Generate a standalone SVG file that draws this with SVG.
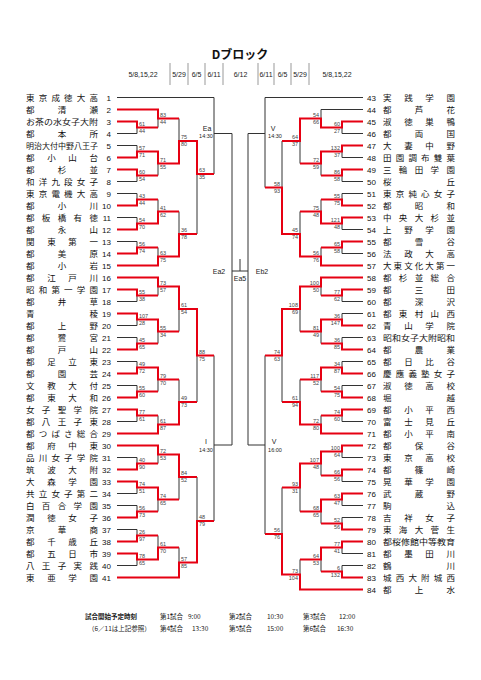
<svg xmlns="http://www.w3.org/2000/svg" width="481" height="680" viewBox="0 0 481 680">
<style>
.k{fill:none;stroke:#333;stroke-width:1}
.r{fill:none;stroke:#e60012;stroke-width:2}
.sep{stroke:#999;stroke-width:1}
.nm{font-family:"Noto Sans CJK JP",sans-serif;font-size:8.5px;fill:#111}
.sm{font-size:7.5px}
.no{font-family:"Liberation Sans",sans-serif;font-size:8px;fill:#111}
.nl{text-anchor:end}
.sc{font-family:"Liberation Sans",sans-serif;font-size:5.5px;fill:#444}
.se{text-anchor:end}
.lb{font-family:"Liberation Sans",sans-serif;font-size:7px;fill:#222;text-anchor:middle}
.tm{font-family:"Liberation Sans",sans-serif;font-size:5.5px;fill:#222;text-anchor:middle}
.dt{font-family:"Liberation Sans",sans-serif;font-size:7px;fill:#222;text-anchor:middle}
.ft{font-family:"Noto Sans CJK JP",sans-serif;font-size:6.5px;fill:#222}
</style>
<rect width="481" height="680" fill="#fff"/>
<g id="header">
<text x="240" y="59" text-anchor="middle" style="font-family:'Noto Sans CJK JP',sans-serif;font-size:12px;font-weight:bold" fill="#111">Dブロック</text>
<path class="sep" d="M170 63V85M188 63V85M205 63V85M223 63V85M258 63V85M274 63V85M291 63V85M309 63V85"/>
<text class="dt" x="143" y="77">5/8,15,22</text>
<text class="dt" x="179" y="77">5/29</text>
<text class="dt" x="196.5" y="77">6/5</text>
<text class="dt" x="214" y="77">6/11</text>
<text class="dt" x="240.5" y="77">6/12</text>
<text class="dt" x="266" y="77">6/11</text>
<text class="dt" x="282.5" y="77">6/5</text>
<text class="dt" x="300" y="77">5/29</text>
<text class="dt" x="337" y="77">5/8,15,22</text>
</g>
<g id="connectors">
<path class="k" d="M117 97.5H214M117 109.5H158M117 121.5H137M117 133.5H137M117 145.5H137M117 157.5H137M117 169.5H137M117 181.5H137M117 193.5H137M117 205.5H137M117 217.5H137M117 229.5H137M117 241.5H137M117 253.5H137M117 265.5H158M117 277.5H158M117 289.5H137M117 301.5H137M117 313.5H137M117 325.5H137M117 337.5H137M117 349.5H137M117 361.5H137M117 373.5H137M117 385.5H137M117 397.5H137M117 409.5H137M117 421.5H137M117 433.5H158M117 445.5H158M117 457.5H137M117 469.5H137M117 481.5H137M117 493.5H137M117 505.5H137M117 517.5H137M117 529.5H137M117 541.5H137M117 553.5H137M117 565.5H137M117 577.5H179"/>
<path class="k" d="M137 121.5V133.5M137 145.5V157.5M137 169.5V181.5M137 193.5V205.5M137 217.5V229.5M137 241.5V253.5M137 289.5V301.5M137 313.5V325.5M137 337.5V349.5M137 361.5V373.5M137 385.5V397.5M137 409.5V421.5M137 457.5V469.5M137 481.5V493.5M137 505.5V517.5M137 529.5V541.5M137 553.5V565.5M158 109.5V127.5M158 151.5V175.5M158 199.5V223.5M158 247.5V265.5M158 277.5V295.5M158 319.5V343.5M158 367.5V391.5M158 415.5V433.5M158 445.5V463.5M158 487.5V511.5M158 535.5V559.5M179 118.5V163.5M179 211.5V256.5M179 286.5V331.5M179 379.5V424.5M179 454.5V499.5M179 547.5V577.5M197 141V234M197 309V402M197 477V562.5M214 97.5V174M214 355.5V521M232 133.5V445M214 133.5H232M214 445H232"/>
<path class="k" d="M232 271H248M240 259V271"/>
<path class="k" d="M265 97.5H363M321 109.5H363M342 121.5H363M342 133.5H363M342 145.5H363M342 157.5H363M342 169.5H363M342 181.5H363M342 193.5H363M342 205.5H363M342 217.5H363M342 229.5H363M342 241.5H363M342 253.5H363M321 265.5H363M321 277.5H363M342 289.5H363M342 301.5H363M342 313.5H363M342 325.5H363M342 337.5H363M342 349.5H363M342 361.5H363M342 373.5H363M342 385.5H363M342 397.5H363M342 409.5H363M342 421.5H363M321 433.5H363M342 445.5H363M342 457.5H363M342 469.5H363M342 481.5H363M342 493.5H363M342 505.5H363M342 517.5H363M342 529.5H363M342 541.5H363M342 553.5H363M342 565.5H363M342 577.5H363M300 589.5H363"/>
<path class="k" d="M342 121.5V133.5M342 145.5V157.5M342 169.5V181.5M342 193.5V205.5M342 217.5V229.5M342 241.5V253.5M342 289.5V301.5M342 313.5V325.5M342 337.5V349.5M342 361.5V373.5M342 385.5V397.5M342 409.5V421.5M342 445.5V457.5M342 469.5V481.5M342 493.5V505.5M342 517.5V529.5M342 541.5V553.5M342 565.5V577.5M321 109.5V127.5M321 151.5V175.5M321 199.5V223.5M321 247.5V265.5M321 277.5V295.5M321 319.5V343.5M321 367.5V391.5M321 415.5V433.5M321 451.5V475.5M321 499.5V523.5M321 547.5V571.5M300 118.5V163.5M300 211.5V256.5M300 286.5V331.5M300 379.5V424.5M300 463.5V511.5M300 559.5V589.5M282 141V234M282 309V402M282 487.5V574.5M265 97.5V187.5M265 355.5V534M248 133.5V445M248 133.5H265M248 445H265"/>
<path class="r" d="M117 109.5H158V118.5H179M117 121.5H137V127.5H158M117 157.5H137V151.5H158V163.5H179V141H197V174H214M117 169.5H137V175.5H158M117 205.5H137V199.5H158M117 229.5H137V223.5H158V211.5H179M117 253.5H137V247.5H158M117 265.5H158V256.5H179V234H197M117 277.5H158V286.5H179V309H197V355.5H214M117 289.5H137V295.5H158M117 313.5H137V319.5H158V331.5H179M117 349.5H137V343.5H158M117 373.5H137V367.5H158V379.5H179M117 397.5H137V391.5H158M117 409.5H137V415.5H158M117 433.5H158V424.5H179V402H197M117 445.5H158V454.5H179V477H197M117 469.5H137V463.5H158M117 481.5H137V487.5H158V499.5H179M117 517.5H137V511.5H158M117 541.5H137V535.5H158M117 553.5H137V559.5H158V547.5H179M117 577.5H179V562.5H197V521H214"/>
<path class="r" d="M363 121.5H342V127.5H321V118.5H300V141H282M363 145.5H342V151.5H321V163.5H300M363 169.5H342V175.5H321M363 205.5H342V199.5H321M363 217.5H342V223.5H321V211.5H300M363 241.5H342V247.5H321M363 265.5H321V256.5H300V234H282V187.5H265M363 277.5H321V286.5H300V309H282V355.5H265M363 289.5H342V295.5H321M363 325.5H342V319.5H321V331.5H300M363 349.5H342V343.5H321M363 373.5H342V367.5H321V379.5H300M363 397.5H342V391.5H321M363 409.5H342V415.5H321M363 433.5H321V424.5H300V402H282M363 445.5H342V451.5H321V463.5H300V487.5H282M363 469.5H342V475.5H321M363 493.5H342V499.5H321V511.5H300M363 529.5H342V523.5H321M363 541.5H342V547.5H321V559.5H300M363 577.5H342V571.5H321M363 589.5H300V574.5H282V534H265"/>
</g>
<g id="scores" class="sc">
<text x="139" y="125.5">61</text><text x="139" y="132.5">44</text>
<text x="160" y="116.5">83</text><text x="160" y="123.5">44</text>
<text x="139" y="149.5">57</text><text x="139" y="156.5">71</text>
<text x="139" y="173.5">60</text><text x="139" y="180.5">54</text>
<text x="160" y="161.5">71</text><text x="160" y="168.5">55</text>
<text x="181" y="139">75</text><text x="181" y="146">80</text>
<text x="139" y="197.5">43</text><text x="139" y="204.5">44</text>
<text x="139" y="221.5">54</text><text x="139" y="228.5">70</text>
<text x="160" y="209.5">41</text><text x="160" y="216.5">62</text>
<text x="139" y="245.5">56</text><text x="139" y="252.5">74</text>
<text x="160" y="254.5">63</text><text x="160" y="261.5">75</text>
<text x="181" y="232">36</text><text x="181" y="239">78</text>
<text x="199" y="172">63</text><text x="199" y="179">35</text>
<text x="139" y="293.5">55</text><text x="139" y="300.5">38</text>
<text x="160" y="284.5">73</text><text x="160" y="291.5">57</text>
<text x="139" y="317.5">107</text><text x="139" y="324.5">28</text>
<text x="139" y="341.5">45</text><text x="139" y="348.5">65</text>
<text x="160" y="329.5">55</text><text x="160" y="336.5">34</text>
<text x="181" y="307">61</text><text x="181" y="314">54</text>
<text x="139" y="365.5">49</text><text x="139" y="372.5">72</text>
<text x="139" y="389.5">55</text><text x="139" y="396.5">60</text>
<text x="160" y="377.5">79</text><text x="160" y="384.5">70</text>
<text x="139" y="413.5">77</text><text x="139" y="420.5">61</text>
<text x="160" y="422.5">61</text><text x="160" y="429.5">87</text>
<text x="181" y="400">49</text><text x="181" y="407">73</text>
<text x="199" y="353.5">88</text><text x="199" y="360.5">75</text>
<text x="139" y="461.5">40</text><text x="139" y="468.5">90</text>
<text x="160" y="452.5">72</text><text x="160" y="459.5">53</text>
<text x="139" y="485.5">74</text><text x="139" y="492.5">51</text>
<text x="139" y="509.5">56</text><text x="139" y="516.5">73</text>
<text x="160" y="497.5">74</text><text x="160" y="504.5">65</text>
<text x="181" y="475">84</text><text x="181" y="482">52</text>
<text x="139" y="533.5">26</text><text x="139" y="540.5">97</text>
<text x="139" y="557.5">78</text><text x="139" y="564.5">65</text>
<text x="160" y="545.5">61</text><text x="160" y="552.5">70</text>
<text x="181" y="560.5">57</text><text x="181" y="567.5">85</text>
<text x="199" y="519">48</text><text x="199" y="526">79</text>
<g class="se">
<text x="340" y="125.5">60</text><text x="340" y="132.5">27</text>
<text x="319" y="116.5">54</text><text x="319" y="123.5">66</text>
<text x="340" y="149.5">132</text><text x="340" y="156.5">37</text>
<text x="340" y="173.5">86</text><text x="340" y="180.5">58</text>
<text x="319" y="161.5">72</text><text x="319" y="168.5">59</text>
<text x="298" y="139">64</text><text x="298" y="146">37</text>
<text x="340" y="197.5">55</text><text x="340" y="204.5">75</text>
<text x="340" y="221.5">121</text><text x="340" y="228.5">48</text>
<text x="319" y="209.5">75</text><text x="319" y="216.5">48</text>
<text x="340" y="245.5">65</text><text x="340" y="252.5">58</text>
<text x="319" y="254.5">56</text><text x="319" y="261.5">76</text>
<text x="298" y="232">45</text><text x="298" y="239">74</text>
<text x="280" y="185.5">58</text><text x="280" y="192.5">93</text>
<text x="340" y="293.5">77</text><text x="340" y="300.5">62</text>
<text x="319" y="284.5">100</text><text x="319" y="291.5">50</text>
<text x="340" y="317.5">36</text><text x="340" y="324.5">147</text>
<text x="340" y="341.5">36</text><text x="340" y="348.5">85</text>
<text x="319" y="329.5">81</text><text x="319" y="336.5">49</text>
<text x="298" y="307">108</text><text x="298" y="314">69</text>
<text x="340" y="365.5">34</text><text x="340" y="372.5">87</text>
<text x="340" y="389.5">54</text><text x="340" y="396.5">75</text>
<text x="319" y="377.5">117</text><text x="319" y="384.5">52</text>
<text x="340" y="413.5">74</text><text x="340" y="420.5">60</text>
<text x="319" y="422.5">72</text><text x="319" y="429.5">80</text>
<text x="298" y="400">61</text><text x="298" y="407">94</text>
<text x="280" y="353.5">74</text><text x="280" y="360.5">63</text>
<text x="340" y="449.5">100</text><text x="340" y="456.5">64</text>
<text x="340" y="473.5">66</text><text x="340" y="480.5">56</text>
<text x="319" y="461.5">107</text><text x="319" y="468.5">48</text>
<text x="340" y="497.5">63</text><text x="340" y="504.5">47</text>
<text x="340" y="521.5">52</text><text x="340" y="528.5">56</text>
<text x="319" y="509.5">68</text><text x="319" y="516.5">65</text>
<text x="298" y="485.5">93</text><text x="298" y="492.5">31</text>
<text x="340" y="545.5">77</text><text x="340" y="552.5">41</text>
<text x="340" y="569.5">6</text><text x="340" y="576.5">132</text>
<text x="319" y="557.5">64</text><text x="319" y="564.5">53</text>
<text x="298" y="572.5">73</text><text x="298" y="579.5">104</text>
<text x="280" y="532">56</text><text x="280" y="539">76</text>
</g>
</g>
<g id="match-labels">
<text class="lb" x="207" y="131">Ea</text><text class="tm" x="206" y="138">14:30</text>
<text class="lb" x="206" y="444">I</text><text class="tm" x="206" y="452">14:30</text>
<text class="lb" x="273" y="131">V</text><text class="tm" x="275" y="138">14:30</text>
<text class="lb" x="274" y="444">V</text><text class="tm" x="275" y="452">16:00</text>
<text class="lb" x="219" y="274">Ea2</text>
<text class="lb" x="262" y="274">Eb2</text>
<text class="lb" x="240" y="281">Ea5</text>
</g>
<g id="teams-left">
<g id="t1"><text class="nm" x="26" y="100.5" textLength="72" lengthAdjust="spacing">東京成徳大高</text><text class="no nl" x="111" y="100.5">1</text></g>
<g id="t2"><text class="nm" x="26" y="112.5" textLength="72" lengthAdjust="spacing">都清瀬</text><text class="no nl" x="111" y="112.5">2</text></g>
<g id="t3"><text class="nm sm" x="26" y="124.5" textLength="72" lengthAdjust="spacingAndGlyphs">お茶の水女子大附</text><text class="no nl" x="111" y="124.5">3</text></g>
<g id="t4"><text class="nm" x="26" y="136.5" textLength="72" lengthAdjust="spacing">都本所</text><text class="no nl" x="111" y="136.5">4</text></g>
<g id="t5"><text class="nm sm" x="26" y="148.5" textLength="72" lengthAdjust="spacingAndGlyphs">明治大付中野八王子</text><text class="no nl" x="111" y="148.5">5</text></g>
<g id="t6"><text class="nm" x="26" y="160.5" textLength="72" lengthAdjust="spacing">都小山台</text><text class="no nl" x="111" y="160.5">6</text></g>
<g id="t7"><text class="nm" x="26" y="172.5" textLength="72" lengthAdjust="spacing">都杉並</text><text class="no nl" x="111" y="172.5">7</text></g>
<g id="t8"><text class="nm" x="26" y="184.5" textLength="72" lengthAdjust="spacing">和洋九段女子</text><text class="no nl" x="111" y="184.5">8</text></g>
<g id="t9"><text class="nm" x="26" y="196.5" textLength="72" lengthAdjust="spacing">東京電機大高</text><text class="no nl" x="111" y="196.5">9</text></g>
<g id="t10"><text class="nm" x="26" y="208.5" textLength="72" lengthAdjust="spacing">都小川</text><text class="no nl" x="111" y="208.5">10</text></g>
<g id="t11"><text class="nm" x="26" y="220.5" textLength="72" lengthAdjust="spacing">都板橋有徳</text><text class="no nl" x="111" y="220.5">11</text></g>
<g id="t12"><text class="nm" x="26" y="232.5" textLength="72" lengthAdjust="spacing">都永山</text><text class="no nl" x="111" y="232.5">12</text></g>
<g id="t13"><text class="nm" x="26" y="244.5" textLength="72" lengthAdjust="spacing">関東第一</text><text class="no nl" x="111" y="244.5">13</text></g>
<g id="t14"><text class="nm" x="26" y="256.5" textLength="72" lengthAdjust="spacing">都美原</text><text class="no nl" x="111" y="256.5">14</text></g>
<g id="t15"><text class="nm" x="26" y="268.5" textLength="72" lengthAdjust="spacing">都小岩</text><text class="no nl" x="111" y="268.5">15</text></g>
<g id="t16"><text class="nm" x="26" y="280.5" textLength="72" lengthAdjust="spacing">都江戸川</text><text class="no nl" x="111" y="280.5">16</text></g>
<g id="t17"><text class="nm" x="26" y="292.5" textLength="72" lengthAdjust="spacing">昭和第一学園</text><text class="no nl" x="111" y="292.5">17</text></g>
<g id="t18"><text class="nm" x="26" y="304.5" textLength="72" lengthAdjust="spacing">都井草</text><text class="no nl" x="111" y="304.5">18</text></g>
<g id="t19"><text class="nm" x="26" y="316.5" textLength="72" lengthAdjust="spacing">青稜</text><text class="no nl" x="111" y="316.5">19</text></g>
<g id="t20"><text class="nm" x="26" y="328.5" textLength="72" lengthAdjust="spacing">都上野</text><text class="no nl" x="111" y="328.5">20</text></g>
<g id="t21"><text class="nm" x="26" y="340.5" textLength="72" lengthAdjust="spacing">都鷺宮</text><text class="no nl" x="111" y="340.5">21</text></g>
<g id="t22"><text class="nm" x="26" y="352.5" textLength="72" lengthAdjust="spacing">都戸山</text><text class="no nl" x="111" y="352.5">22</text></g>
<g id="t23"><text class="nm" x="26" y="364.5" textLength="72" lengthAdjust="spacing">都足立東</text><text class="no nl" x="111" y="364.5">23</text></g>
<g id="t24"><text class="nm" x="26" y="376.5" textLength="72" lengthAdjust="spacing">都園芸</text><text class="no nl" x="111" y="376.5">24</text></g>
<g id="t25"><text class="nm" x="26" y="388.5" textLength="72" lengthAdjust="spacing">文教大付</text><text class="no nl" x="111" y="388.5">25</text></g>
<g id="t26"><text class="nm" x="26" y="400.5" textLength="72" lengthAdjust="spacing">都東大和</text><text class="no nl" x="111" y="400.5">26</text></g>
<g id="t27"><text class="nm" x="26" y="412.5" textLength="72" lengthAdjust="spacing">女子聖学院</text><text class="no nl" x="111" y="412.5">27</text></g>
<g id="t28"><text class="nm" x="26" y="424.5" textLength="72" lengthAdjust="spacing">都八王子東</text><text class="no nl" x="111" y="424.5">28</text></g>
<g id="t29"><text class="nm" x="26" y="436.5" textLength="72" lengthAdjust="spacing">都つばさ総合</text><text class="no nl" x="111" y="436.5">29</text></g>
<g id="t30"><text class="nm" x="26" y="448.5" textLength="72" lengthAdjust="spacing">都府中東</text><text class="no nl" x="111" y="448.5">30</text></g>
<g id="t31"><text class="nm" x="26" y="460.5" textLength="72" lengthAdjust="spacing">品川女子学院</text><text class="no nl" x="111" y="460.5">31</text></g>
<g id="t32"><text class="nm" x="26" y="472.5" textLength="72" lengthAdjust="spacing">筑波大附</text><text class="no nl" x="111" y="472.5">32</text></g>
<g id="t33"><text class="nm" x="26" y="484.5" textLength="72" lengthAdjust="spacing">大森学園</text><text class="no nl" x="111" y="484.5">33</text></g>
<g id="t34"><text class="nm" x="26" y="496.5" textLength="72" lengthAdjust="spacing">共立女子第二</text><text class="no nl" x="111" y="496.5">34</text></g>
<g id="t35"><text class="nm" x="26" y="508.5" textLength="72" lengthAdjust="spacing">白百合学園</text><text class="no nl" x="111" y="508.5">35</text></g>
<g id="t36"><text class="nm" x="26" y="520.5" textLength="72" lengthAdjust="spacing">潤徳女子</text><text class="no nl" x="111" y="520.5">36</text></g>
<g id="t37"><text class="nm" x="26" y="532.5" textLength="72" lengthAdjust="spacing">京華商</text><text class="no nl" x="111" y="532.5">37</text></g>
<g id="t38"><text class="nm" x="26" y="544.5" textLength="72" lengthAdjust="spacing">都千歳丘</text><text class="no nl" x="111" y="544.5">38</text></g>
<g id="t39"><text class="nm" x="26" y="556.5" textLength="72" lengthAdjust="spacing">都五日市</text><text class="no nl" x="111" y="556.5">39</text></g>
<g id="t40"><text class="nm" x="26" y="568.5" textLength="72" lengthAdjust="spacing">八王子実践</text><text class="no nl" x="111" y="568.5">40</text></g>
<g id="t41"><text class="nm" x="26" y="580.5" textLength="72" lengthAdjust="spacing">東亜学園</text><text class="no nl" x="111" y="580.5">41</text></g>
</g>
<g id="teams-right">
<g id="t43"><text class="no" x="367" y="100.5">43</text><text class="nm" x="383" y="100.5" textLength="72" lengthAdjust="spacing">実践学園</text></g>
<g id="t44"><text class="no" x="367" y="112.5">44</text><text class="nm" x="383" y="112.5" textLength="72" lengthAdjust="spacing">都芦花</text></g>
<g id="t45"><text class="no" x="367" y="124.5">45</text><text class="nm" x="383" y="124.5" textLength="72" lengthAdjust="spacing">淑徳巣鴨</text></g>
<g id="t46"><text class="no" x="367" y="136.5">46</text><text class="nm" x="383" y="136.5" textLength="72" lengthAdjust="spacing">都両国</text></g>
<g id="t47"><text class="no" x="367" y="148.5">47</text><text class="nm" x="383" y="148.5" textLength="72" lengthAdjust="spacing">大妻中野</text></g>
<g id="t48"><text class="no" x="367" y="160.5">48</text><text class="nm" x="383" y="160.5" textLength="72" lengthAdjust="spacing">田園調布雙葉</text></g>
<g id="t49"><text class="no" x="367" y="172.5">49</text><text class="nm" x="383" y="172.5" textLength="72" lengthAdjust="spacing">三輪田学園</text></g>
<g id="t50"><text class="no" x="367" y="184.5">50</text><text class="nm" x="383" y="184.5" textLength="72" lengthAdjust="spacing">桜丘</text></g>
<g id="t51"><text class="no" x="367" y="196.5">51</text><text class="nm" x="383" y="196.5" textLength="72" lengthAdjust="spacing">東京純心女子</text></g>
<g id="t52"><text class="no" x="367" y="208.5">52</text><text class="nm" x="383" y="208.5" textLength="72" lengthAdjust="spacing">都昭和</text></g>
<g id="t53"><text class="no" x="367" y="220.5">53</text><text class="nm" x="383" y="220.5" textLength="72" lengthAdjust="spacing">中央大杉並</text></g>
<g id="t54"><text class="no" x="367" y="232.5">54</text><text class="nm" x="383" y="232.5" textLength="72" lengthAdjust="spacing">上野学園</text></g>
<g id="t55"><text class="no" x="367" y="244.5">55</text><text class="nm" x="383" y="244.5" textLength="72" lengthAdjust="spacing">都雪谷</text></g>
<g id="t56"><text class="no" x="367" y="256.5">56</text><text class="nm" x="383" y="256.5" textLength="72" lengthAdjust="spacing">法政大高</text></g>
<g id="t57"><text class="no" x="367" y="268.5">57</text><text class="nm" x="383" y="268.5" textLength="72" lengthAdjust="spacing">大東文化大第一</text></g>
<g id="t58"><text class="no" x="367" y="280.5">58</text><text class="nm" x="383" y="280.5" textLength="72" lengthAdjust="spacing">都杉並総合</text></g>
<g id="t59"><text class="no" x="367" y="292.5">59</text><text class="nm" x="383" y="292.5" textLength="72" lengthAdjust="spacing">都三田</text></g>
<g id="t60"><text class="no" x="367" y="304.5">60</text><text class="nm" x="383" y="304.5" textLength="72" lengthAdjust="spacing">都深沢</text></g>
<g id="t61"><text class="no" x="367" y="316.5">61</text><text class="nm" x="383" y="316.5" textLength="72" lengthAdjust="spacing">都東村山西</text></g>
<g id="t62"><text class="no" x="367" y="328.5">62</text><text class="nm" x="383" y="328.5" textLength="72" lengthAdjust="spacing">青山学院</text></g>
<g id="t63"><text class="no" x="367" y="340.5">63</text><text class="nm sm" x="383" y="340.5" textLength="72" lengthAdjust="spacingAndGlyphs">昭和女子大附昭和</text></g>
<g id="t64"><text class="no" x="367" y="352.5">64</text><text class="nm" x="383" y="352.5" textLength="72" lengthAdjust="spacing">都農業</text></g>
<g id="t65"><text class="no" x="367" y="364.5">65</text><text class="nm" x="383" y="364.5" textLength="72" lengthAdjust="spacing">都日比谷</text></g>
<g id="t66"><text class="no" x="367" y="376.5">66</text><text class="nm" x="383" y="376.5" textLength="72" lengthAdjust="spacing">慶應義塾女子</text></g>
<g id="t67"><text class="no" x="367" y="388.5">67</text><text class="nm" x="383" y="388.5" textLength="72" lengthAdjust="spacing">淑徳高校</text></g>
<g id="t68"><text class="no" x="367" y="400.5">68</text><text class="nm" x="383" y="400.5" textLength="72" lengthAdjust="spacing">堀越</text></g>
<g id="t69"><text class="no" x="367" y="412.5">69</text><text class="nm" x="383" y="412.5" textLength="72" lengthAdjust="spacing">都小平西</text></g>
<g id="t70"><text class="no" x="367" y="424.5">70</text><text class="nm" x="383" y="424.5" textLength="72" lengthAdjust="spacing">富士見丘</text></g>
<g id="t71"><text class="no" x="367" y="436.5">71</text><text class="nm" x="383" y="436.5" textLength="72" lengthAdjust="spacing">都小平南</text></g>
<g id="t72"><text class="no" x="367" y="448.5">72</text><text class="nm" x="383" y="448.5" textLength="72" lengthAdjust="spacing">都保谷</text></g>
<g id="t73"><text class="no" x="367" y="460.5">73</text><text class="nm" x="383" y="460.5" textLength="72" lengthAdjust="spacing">東京高校</text></g>
<g id="t74"><text class="no" x="367" y="472.5">74</text><text class="nm" x="383" y="472.5" textLength="72" lengthAdjust="spacing">都篠崎</text></g>
<g id="t75"><text class="no" x="367" y="484.5">75</text><text class="nm" x="383" y="484.5" textLength="72" lengthAdjust="spacing">晃華学園</text></g>
<g id="t76"><text class="no" x="367" y="496.5">76</text><text class="nm" x="383" y="496.5" textLength="72" lengthAdjust="spacing">武蔵野</text></g>
<g id="t77"><text class="no" x="367" y="508.5">77</text><text class="nm" x="383" y="508.5" textLength="72" lengthAdjust="spacing">駒込</text></g>
<g id="t78"><text class="no" x="367" y="520.5">78</text><text class="nm" x="383" y="520.5" textLength="72" lengthAdjust="spacing">吉祥女子</text></g>
<g id="t79"><text class="no" x="367" y="532.5">79</text><text class="nm" x="383" y="532.5" textLength="72" lengthAdjust="spacing">東海大菅生</text></g>
<g id="t80"><text class="no" x="367" y="544.5">80</text><text class="nm sm" x="383" y="544.5" textLength="72" lengthAdjust="spacingAndGlyphs">都桜修館中等教育</text></g>
<g id="t81"><text class="no" x="367" y="556.5">81</text><text class="nm" x="383" y="556.5" textLength="72" lengthAdjust="spacing">都墨田川</text></g>
<g id="t82"><text class="no" x="367" y="568.5">82</text><text class="nm" x="383" y="568.5" textLength="72" lengthAdjust="spacing">鶴川</text></g>
<g id="t83"><text class="no" x="367" y="580.5">83</text><text class="nm" x="383" y="580.5" textLength="72" lengthAdjust="spacing">城西大附城西</text></g>
<g id="t84"><text class="no" x="367" y="592.5">84</text><text class="nm" x="383" y="592.5" textLength="72" lengthAdjust="spacing">都上水</text></g>
</g>
<g id="footer" class="ft">
<text x="85" y="618.5" font-weight="bold">試合開始予定時刻</text>
<text x="160" y="618.5">第1試合</text><text x="188" y="618.5">9:00</text>
<text x="229" y="618.5">第2試合</text><text x="267" y="618.5">10:30</text>
<text x="303" y="618.5">第3試合</text><text x="339" y="618.5">12:00</text>
<text x="88" y="631">（6／11は上記参照）</text>
<text x="160" y="631">第4試合</text><text x="192" y="631">13:30</text>
<text x="229" y="631">第5試合</text><text x="267" y="631">15:00</text>
<text x="303" y="631">第6試合</text><text x="337" y="631">16:30</text>
</g>
</svg>
